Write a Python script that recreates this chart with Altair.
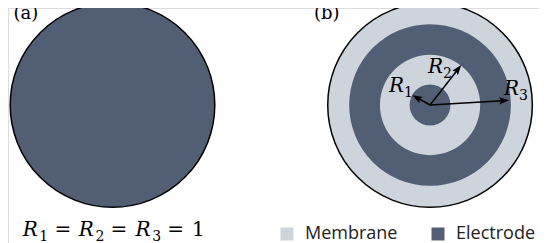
import math
import altair as alt
import pandas as pd

# ---------------- data ----------------
panel_names = ["(a)", "(b)"]
panel_cx = [0.0, 3.104]            # disk centres, in units of the outer radius

ring_panel = ["(a)", "(b)", "(b)", "(b)", "(b)"]
ring_radius = [1.0, 1.0, 0.79, 0.49, 0.20]
ring_material = ["Electrode", "Membrane", "Electrode", "Membrane", "Electrode"]

arrow_index = ["1", "2", "3"]
arrow_angle = [151.0, 52.0, 3.4]     # degrees, counter-clockwise from +x
arrow_length = [0.197, 0.495, 0.775]

materials = ["Membrane", "Electrode"]
material_colors = ["#cdd4dc", "#525e73"]

formula_tokens = ["R", "1", "=", "R", "2", "=", "R", "3", "=", "1"]
formula_kind = ["var", "sub", "op", "var", "sub", "op", "var", "sub", "op", "op"]

# ---------------- layout ----------------
K = 102.3          # px per unit radius
W, H = 531, 235
X_DOM = [-104.5 / K, -104.5 / K + W / K]
Y_MAX = 97.0 / K
Y_DOM = [Y_MAX - H / K, Y_MAX]
SERIF = "DejaVu Serif"

label_dx = [-0.254, 0.127, 0.870]
label_dy = [0.127, 0.310, 0.098]
panel_label_dx = [-0.968, -1.134]
panel_label_dy = [0.836, 0.836]
formula_dx = [-0.878, -0.715, -0.567, -0.331, -0.167, -0.020, 0.224, 0.388, 0.535, 0.776]
formula_dy = -1.2805

xs = alt.Scale(domain=X_DOM, nice=False, zero=False)
ys = alt.Scale(domain=Y_DOM, nice=False, zero=False)
X = lambda f: alt.X(f, scale=xs, axis=None)
Y = lambda f: alt.Y(f, scale=ys, axis=None)

pc = dict(zip(panel_names, panel_cx))

rings = pd.DataFrame({
    "cx": [pc[p] for p in ring_panel],
    "cy": 0.0,
    "r": ring_radius,
    "material": ring_material,
})

bcx = pc["(b)"]
arrows = pd.DataFrame({"i": arrow_index, "ang": arrow_angle, "L": arrow_length})
rad = arrows["ang"] * math.pi / 180
arrows["x0"] = bcx
arrows["y0"] = 0.0
arrows["x1"] = bcx + (arrows["L"] - 0.06) * rad.apply(math.cos)
arrows["y1"] = (arrows["L"] - 0.06) * rad.apply(math.sin)
arrows["xt"] = bcx + arrows["L"] * rad.apply(math.cos)
arrows["yt"] = arrows["L"] * rad.apply(math.sin)
arrows["rot"] = (90 - arrows["ang"]) % 360
arrows["lx"] = [bcx + d for d in label_dx]
arrows["ly"] = label_dy
arrows["R"] = "R"

plabels = pd.DataFrame({
    "t": panel_names,
    "x": [c + d for c, d in zip(panel_cx, panel_label_dx)],
    "y": panel_label_dy,
})

formula = pd.DataFrame({
    "t": formula_tokens,
    "kind": formula_kind,
    "x": [pc["(a)"] + d for d in formula_dx],
    "y": formula_dy,
})

radius_enc = alt.Radius("r:Q", stack=None,
                        scale=alt.Scale(type="linear", domain=[0, 1], range=[0, K], zero=True))

ring_layer = alt.Chart(rings).mark_arc(theta=0, theta2=2 * math.pi).encode(
    x=X("cx:Q"), y=Y("cy:Q"), radius=radius_enc,
    color=alt.Color("material:N",
                    scale=alt.Scale(domain=materials, range=material_colors),
                    legend=alt.Legend(title=None, orient="none", direction="horizontal",
                                      legendX=270, legendY=217, symbolType="square",
                                      symbolSize=169, symbolStrokeWidth=0, symbolOpacity=1,
                                      labelFont="Open Sans", labelFontSize=18, labelColor="#222222",
                                      labelOffset=9, columnPadding=31, padding=0)),
    order=alt.Order("ord:Q"),
).transform_calculate(ord="-datum.r")

outline = alt.Chart(rings).transform_filter("datum.r >= 1").mark_arc(
    theta=0, theta2=2 * math.pi, filled=False, stroke="black", strokeWidth=1.5
).encode(x=X("cx:Q"), y=Y("cy:Q"), radius=radius_enc)

shafts = alt.Chart(arrows).mark_rule(color="black", strokeWidth=1.5).encode(
    x=X("x0:Q"), y=Y("y0:Q"), x2="x1:Q", y2="y1:Q")

heads = alt.Chart(arrows).mark_point(
    shape="M0,0L0.36,1L0,0.8L-0.36,1Z", filled=True, size=400, color="black", opacity=1, strokeWidth=0
).encode(x=X("xt:Q"), y=Y("yt:Q"), angle=alt.Angle("rot:Q", scale=None))

r_text = alt.Chart(arrows).mark_text(
    font=SERIF, fontStyle="italic", fontSize=20, align="right", baseline="alphabetic", color="black"
).encode(x=X("lx:Q"), y=Y("ly:Q"), text="R:N")

sub_text = alt.Chart(arrows).mark_text(
    font=SERIF, fontSize=14, align="left", baseline="alphabetic", dy=5, color="black"
).encode(x=X("lx:Q"), y=Y("ly:Q"), text="i:N")

panel_text = alt.Chart(plabels).mark_text(
    font=SERIF, fontSize=18, align="left", baseline="alphabetic", color="black"
).encode(x=X("x:Q"), y=Y("y:Q"), text="t:N")

f_var = alt.Chart(formula).transform_filter("datum.kind == 'var'").mark_text(
    font=SERIF, fontStyle="italic", fontSize=20, align="left", baseline="alphabetic", color="black"
).encode(x=X("x:Q"), y=Y("y:Q"), text="t:N")

f_sub = alt.Chart(formula).transform_filter("datum.kind == 'sub'").mark_text(
    font=SERIF, fontSize=14, align="left", baseline="alphabetic", dy=5, color="black"
).encode(x=X("x:Q"), y=Y("y:Q"), text="t:N")

f_op = alt.Chart(formula).transform_filter("datum.kind == 'op'").mark_text(
    font=SERIF, fontSize=20, align="left", baseline="alphabetic", color="black"
).encode(x=X("x:Q"), y=Y("y:Q"), text="t:N")

chart = alt.layer(
    ring_layer, outline, shafts, heads, r_text, sub_text, panel_text, f_var, f_sub, f_op
).properties(
    width=W, height=H, autosize=alt.AutoSizeParams(type="none"), padding=0
).configure_view(strokeWidth=0).configure(background="white")

chart.save("out.html", embed_options={"renderer": "svg", "actions": False})
